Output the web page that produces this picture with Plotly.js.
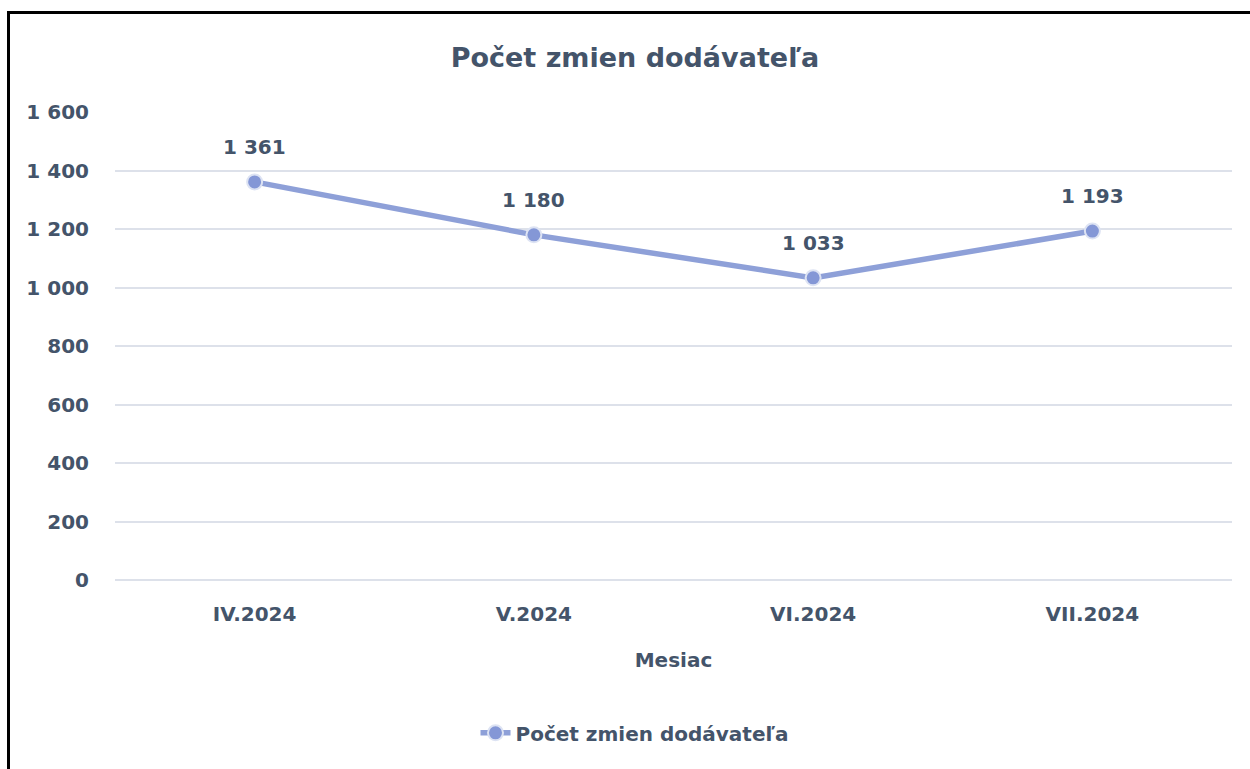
<!DOCTYPE html>
<html>
<head>
<meta charset="utf-8">
<script src="https://cdn.plot.ly/plotly-3.0.1.min.js"></script>
<style>
html,body{margin:0;padding:0;background:#fff;}
#chart{position:absolute;left:0;top:0;width:1250px;height:769px;}
#frame{position:absolute;left:7px;top:11px;width:1243px;height:758px;border-left:3px solid #000;border-top:3px solid #000;box-sizing:border-box;pointer-events:none;}
</style>
</head>
<body>
<div id="chart"></div>
<div id="frame"></div>
<script>
const categories = ["IV.2024", "V.2024", "VI.2024", "VII.2024"];
const values = [1361, 1180, 1033, 1193];
const seriesName = "Počet zmien dodávateľa";
const yTicks = [0, 200, 400, 600, 800, 1000, 1200, 1400, 1600];

const textColor = "#44546A";
const fontFam = "'DejaVu Sans', 'Open Sans', sans-serif";

function fmt(v){ return String(v).replace(/\B(?=(\d{3})+(?!\d))/g, " "); }

const trace = {
  x: categories,
  y: values,
  type: "scatter",
  mode: "lines+markers",
  name: "<b>" + seriesName + "</b>",
  line: {color: "#8EA0D8", width: 5.5},
  marker: {color: "#8497D6", size: 15, line: {color: "#DDE3F3", width: 2}},
  hoverinfo: "skip"
};

const annotations = categories.map((c, i) => ({
  x: c, y: values[i], xref: "x", yref: "y",
  text: "<b>" + fmt(values[i]) + "</b>",
  showarrow: false, yshift: 35,
  font: {family: fontFam, size: 20, color: textColor}
}));

const layout = {
  width: 1250, height: 769,
  margin: {l: 115, r: 18, t: 112, b: 189},
  paper_bgcolor: "#fff", plot_bgcolor: "#fff",
  separators: ", ",
  title: {text: "<b>" + seriesName + "</b>", x: 0.508, xref: "container", y: 0.925, yanchor: "middle",
          font: {family: fontFam, size: 27, color: textColor}},
  xaxis: {
    type: "category", showgrid: false, zeroline: false, showline: false,
    ticks: "", ticklabelstandoff: 20,
    tickvals: categories, ticktext: categories.map(c => "<b>" + c + "</b>"),
    tickfont: {family: fontFam, size: 20, color: textColor},
    title: {text: "<b>Mesiac</b>", font: {family: fontFam, size: 20, color: textColor}, standoff: 27},
    range: [-0.5, 3.5], fixedrange: true
  },
  yaxis: {
    range: [0, 1600], tickvals: yTicks, ticktext: yTicks.map(v => "<b>" + fmt(v) + "</b>"),
    showgrid: true, gridcolor: "#DDE1EA", gridwidth: 2,
    zeroline: true, zerolinecolor: "#DDE1EA", zerolinewidth: 2,
    showline: false, ticks: "", ticklabelstandoff: 25,
    tickfont: {family: fontFam, size: 20, color: textColor}, fixedrange: true
  },
  showlegend: true,
  legend: {orientation: "h", x: 0.508, xanchor: "center", xref: "container", y: 0.047, yref: "container", yanchor: "middle",
           font: {family: fontFam, size: 20, color: textColor}},
  annotations: annotations
};

Plotly.newPlot("chart", [trace], layout, {displayModeBar: false, staticPlot: true});
</script>
</body>
</html>
